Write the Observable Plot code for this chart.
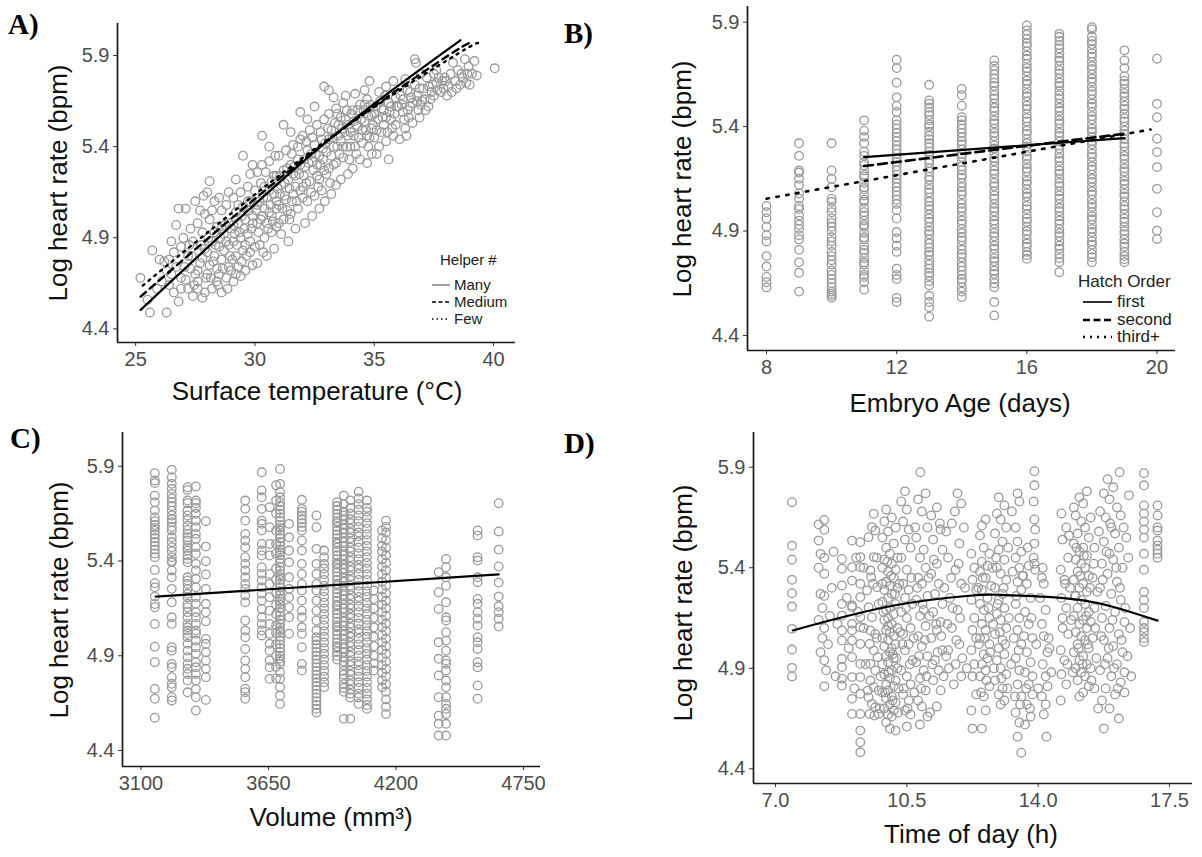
<!DOCTYPE html>
<html><head><meta charset="utf-8">
<script src="https://cdn.jsdelivr.net/npm/d3@7"></script>
<script src="https://cdn.jsdelivr.net/npm/@observablehq/plot@0.6"></script>
<style>
body{margin:0;background:#fff;}
#root{position:relative;width:1202px;height:857px;overflow:hidden;font-family:"Liberation Sans",Arial,sans-serif;}
.lbl{position:absolute;font-family:"Liberation Serif","Times New Roman",serif;font-weight:bold;font-size:29px;line-height:1;color:#000;}
.xt{position:absolute;font-size:26px;color:#111;transform:translate(-50%,-50%);white-space:nowrap;line-height:1;}
.yt{position:absolute;font-size:26px;color:#111;transform:translate(-50%,-50%) rotate(-90deg);white-space:nowrap;line-height:1;}
.lg{position:absolute;color:#222;white-space:nowrap;line-height:1;}
</style></head><body><div id="root"></div>
<script>
// ---------- Panel A: surface temperature vs log heart rate ----------
const tempHR = [
[25.2,4.68],[25.6,4.49],[25.7,4.83],[25.9,4.62],[25.5,4.56],
[26.3,4.49],[26.0,4.78],[26.2,4.77],[26.4,4.78],[26.1,4.66],[26.5,4.70],[26.6,4.60],[26.8,4.55],[26.7,4.97],[26.8,5.06],[26.9,4.85],[26.5,4.88],[26.3,4.72],[26.9,4.68],[26.6,4.82],
[27.1,5.06],[27.5,5.10],[27.3,4.95],[27.2,4.62],[27.4,4.58],[27.6,4.66],[27.8,4.57],[27.9,4.60],[27.85,5.13],[27.2,4.80],[27.4,4.88],[27.6,4.98],[27.7,4.76],[27.5,4.70],[27.9,4.84],[27.3,4.73],[27.8,4.93],[27.0,4.90],[27.6,4.62],[27.9,5.03],[27.7,5.05],[27.1,4.67],
[28.1,5.21],[28.0,5.15],[28.3,5.10],[28.6,4.60],[28.2,4.62],[28.4,4.66],[28.5,4.70],[28.8,4.68],[28.1,4.75],[28.3,4.80],[28.6,4.78],[28.9,4.74],[28.2,4.88],[28.5,4.85],[28.7,4.92],[28.4,4.96],[28.9,4.98],[28.1,5.00],[28.6,5.05],[28.8,5.08],[28.3,4.93],[28.7,4.83],[28.5,5.12],[28.9,5.15],[28.2,5.05],[28.0,4.70],[28.4,4.73],[28.8,4.88],[28.6,4.95],[28.95,4.80],
[29.5,5.35],[29.2,5.22],[29.8,5.25],[29.1,4.66],[29.4,4.69],[29.9,4.75],[29.3,4.74],[29.6,4.72],[29.2,4.80],[29.5,4.83],[29.8,4.82],[29.1,4.88],[29.4,4.90],[29.7,4.92],[29.0,4.95],[29.3,4.98],[29.6,5.00],[29.9,5.02],[29.2,5.04],[29.5,5.07],[29.8,5.10],[29.1,5.12],[29.4,5.15],[29.7,5.18],[29.9,5.30],[29.6,4.86],[29.3,5.08],[29.85,4.95],[29.05,4.78],[29.45,5.02],[29.75,5.05],[29.15,4.92],
[30.3,5.46],[30.6,5.40],[30.1,4.76],[30.5,4.80],[30.8,4.84],[30.2,4.86],[30.4,4.90],[30.7,4.93],[30.9,4.96],[30.1,4.98],[30.3,5.02],[30.6,5.04],[30.9,5.06],[30.2,5.10],[30.5,5.12],[30.8,5.14],[30.0,5.16],[30.4,5.18],[30.7,5.21],[30.9,5.24],[30.1,5.26],[30.3,5.30],[30.6,5.32],[30.85,5.35],[30.45,5.26],[30.25,5.20],[30.65,5.08],[30.95,5.17],[30.05,5.05],[30.75,4.99],[30.55,4.95],[30.35,5.12],
[31.2,5.52],[31.5,5.48],[31.9,5.59],[31.1,4.92],[31.4,4.88],[31.7,4.95],[31.2,5.00],[31.5,5.03],[31.8,5.06],[31.0,5.08],[31.3,5.11],[31.6,5.14],[31.9,5.16],[31.1,5.19],[31.4,5.22],[31.7,5.24],[31.2,5.27],[31.5,5.30],[31.8,5.33],[31.0,5.35],[31.3,5.38],[31.6,5.41],[31.9,5.44],[31.45,5.17],[31.75,5.10],[31.25,5.13],[31.65,5.29],[31.05,5.24],[31.85,5.25],[31.35,5.05],[31.55,5.36],
[32.9,5.73],[32.5,5.62],[32.2,5.55],[32.93,5.10],[32.1,4.98],[32.4,5.02],[32.7,5.06],[32.2,5.10],[32.5,5.13],[32.8,5.16],[32.0,5.18],[32.3,5.21],[32.6,5.24],[32.9,5.27],[32.1,5.29],[32.4,5.32],[32.7,5.35],[32.2,5.38],[32.5,5.41],[32.8,5.44],[32.0,5.46],[32.3,5.49],[32.6,5.52],[32.9,5.55],[32.45,5.27],[32.75,5.30],[32.15,5.43],[32.65,5.18],[32.35,5.36],[32.85,5.39],[32.05,5.33],
[33.1,5.71],[33.4,5.19],[33.2,5.14],[33.6,5.22],[33.9,5.25],[33.1,5.28],[33.4,5.31],[33.7,5.34],[33.0,5.37],[33.3,5.40],[33.6,5.43],[33.9,5.46],[33.2,5.49],[33.5,5.52],[33.8,5.55],[33.1,5.58],[33.4,5.61],[33.7,5.64],[33.3,5.67],[33.8,5.68],[33.55,5.36],[33.25,5.45],[33.85,5.40],[33.05,5.50],[33.65,5.50],[33.45,5.58],[33.95,5.33],[33.15,5.20],
[34.8,5.76],[34.7,5.31],[34.1,5.28],[34.4,5.33],[34.9,5.36],[34.2,5.40],[34.5,5.42],[34.8,5.45],[34.0,5.48],[34.3,5.51],[34.6,5.54],[34.9,5.57],[34.1,5.60],[34.4,5.63],[34.7,5.66],[34.2,5.69],[34.6,5.71],[34.35,5.45],[34.65,5.49],[34.95,5.52],[34.15,5.54],[34.55,5.60],[34.85,5.63],[34.25,5.36],[34.75,5.40],
[35.2,5.40],[35.5,5.43],[35.8,5.46],[35.1,5.49],[35.4,5.52],[35.7,5.55],[35.0,5.58],[35.3,5.61],[35.6,5.64],[35.9,5.67],[35.2,5.70],[35.5,5.73],[35.8,5.76],[35.1,5.36],[35.35,5.56],[35.65,5.59],[35.95,5.62],[35.45,5.68],[35.75,5.50],[35.25,5.65],[35.6,5.33],
[36.06,5.44],[36.75,5.86],[36.7,5.88],[36.3,5.50],[36.6,5.53],[36.9,5.56],[36.2,5.59],[36.5,5.62],[36.8,5.65],[36.1,5.68],[36.4,5.71],[36.7,5.74],[36.3,5.77],[36.9,5.72],[36.45,5.56],[36.85,5.60],[36.15,5.63],[36.55,5.67],[36.35,5.46],
[37.27,5.62],[37.1,5.66],[37.5,5.68],[37.8,5.70],[37.3,5.73],[37.6,5.75],[37.9,5.72],[37.2,5.78],[37.5,5.80],[37.7,5.78],[37.4,5.70],[37.85,5.76],[37.05,5.72],
[38.1,5.73],[38.4,5.76],[38.7,5.78],[38.2,5.80],[38.5,5.82],[38.8,5.88],[38.3,5.86],[38.6,5.74],[38.9,5.80],[38.05,5.68],
[39.2,5.87],[39.1,5.80],[39.3,5.79],[40.05,5.83],
[27.6,4.72],[27.8,4.79],[28.0,4.82],[28.15,4.68],[28.25,4.77],[28.35,4.86],[28.45,4.64],[28.55,4.90],[28.65,4.73],[28.75,4.97],[28.85,4.62],[28.9,4.86],[29.0,4.72],[29.1,4.97],[29.2,4.70],[29.25,4.86],[29.35,4.93],[29.45,4.77],[29.55,4.95],[29.65,4.80],[29.7,5.10],[29.8,4.88],[29.9,4.98],[30.0,4.85],[30.1,5.08],[30.15,4.93],[30.25,5.00],[30.35,4.82],[30.4,5.06],[30.5,4.98],[30.6,5.16],[30.7,5.02],[30.8,5.24],[30.9,5.10],[31.0,4.98],[31.05,5.14],[31.15,5.06],[31.25,5.20],[31.35,5.28],[31.45,5.00],[31.55,5.10],[31.6,5.25],[31.7,5.18],[31.8,5.40],[31.9,5.30],[32.0,5.12],[32.05,5.24],[32.15,5.20],[32.25,5.31],[32.35,5.15],[32.4,5.45],[32.55,5.36],[32.6,5.30],[32.7,5.22],[32.75,5.48],[32.85,5.33],[32.95,5.42],[33.0,5.25],[33.1,5.44],[33.2,5.35],[33.3,5.30],[33.35,5.53],[33.45,5.40],[33.5,5.46],[33.6,5.56],[33.7,5.40],[33.75,5.48],[33.85,5.60],[33.9,5.52],[34.0,5.40],[34.05,5.58],[34.15,5.46],[34.25,5.52],[34.3,5.60],[34.45,5.55],[34.5,5.49],[34.6,5.63],[34.7,5.46],[34.75,5.57],[34.9,5.50],[35.0,5.45],[35.05,5.62],[35.15,5.55],[35.3,5.48],[35.4,5.60],[35.5,5.56],[35.55,5.48],[35.7,5.62],[35.85,5.58],[35.9,5.52],[36.0,5.62],[36.2,5.66],[36.25,5.55],[36.4,5.60],[36.5,5.70],[36.6,5.64],[36.8,5.68],[36.95,5.63],[37.0,5.65],[37.15,5.60],[37.35,5.66],[37.45,5.74],[37.65,5.71],[37.95,5.78],[38.0,5.76],[38.25,5.70],[38.45,5.72],[38.65,5.80],[38.85,5.75],[39.0,5.74],[38.95,5.84],[37.6,5.82],[36.95,5.80],[26.9,4.62],[27.05,4.74],[27.25,4.86],[27.45,4.64],[27.35,4.80],[26.7,4.74],[26.4,4.64],[27.95,4.68],[28.05,4.90],[27.75,4.86]
];
const fitMany   = [[25.21,4.504],[32.52,5.374],[38.61,5.984]];
const fitMedium = [[25.21,4.577],[32.52,5.380],[38.10,5.900],[38.96,5.957]];
const fitFew    = [[25.30,4.638],[32.52,5.389],[38.10,5.878],[39.35,5.969]];

// ---------- Panel B: embryo age (days) ----------
const embryoDays = [8,9,10,11,12,13,14,15,16,17,18,19,20];
const embryoHR = [
[5.02,4.99,4.96,4.92,4.88,4.85,4.78,4.73,4.68,4.655,4.63],
[5.32,5.26,5.19,5.18,5.15,5.12,5.08,5.055,5.02,5.005,4.975,4.95,4.93,4.91,4.88,4.86,4.81,4.75,4.70,4.61],
[5.32,5.19,5.15,5.11,5.055,5.04,5.01,4.99,4.96,4.94,4.92,4.90,4.87,4.85,4.83,4.80,4.78,4.76,4.74,4.71,4.69,4.67,4.65,4.63,4.61,4.60,4.59,4.58],
[5.43,5.38,5.35,5.32,5.28,5.26,5.23,5.215,5.19,5.17,5.16,5.13,5.11,5.10,5.07,5.05,5.04,5.01,4.99,4.975,4.95,4.93,4.92,4.89,4.87,4.86,4.83,4.81,4.795,4.77,4.75,4.74,4.71,4.69,4.68,4.655,4.62],
[5.72,5.68,5.61,5.54,5.50,5.47,5.43,5.41,5.39,5.37,5.35,5.33,5.31,5.29,5.27,5.25,5.23,5.21,5.19,5.17,5.15,5.13,5.11,5.09,5.07,5.05,5.03,5.00,4.96,4.895,4.865,4.83,4.80,4.72,4.69,4.67,4.58,4.56],
[5.60,5.525,5.51,5.49,5.47,5.455,5.43,5.41,5.40,5.375,5.355,5.34,5.32,5.30,5.28,5.265,5.24,5.225,5.20,5.185,5.16,5.145,5.12,5.10,5.085,5.06,5.04,5.02,5.005,4.98,4.96,4.945,4.92,4.90,4.885,4.86,4.84,4.82,4.80,4.785,4.76,4.74,4.72,4.70,4.685,4.66,4.64,4.59,4.56,4.535,4.49],
[5.58,5.55,5.50,5.445,5.43,5.41,5.39,5.37,5.35,5.33,5.315,5.29,5.27,5.255,5.23,5.21,5.19,5.17,5.155,5.13,5.11,5.09,5.075,5.05,5.03,5.01,4.995,4.97,4.95,4.935,4.91,4.89,4.87,4.855,4.83,4.81,4.79,4.775,4.75,4.73,4.71,4.69,4.67,4.655,4.63,4.61,4.584],
[5.717,5.69,5.67,5.65,5.63,5.61,5.595,5.57,5.55,5.535,5.51,5.49,5.475,5.45,5.43,5.415,5.39,5.37,5.355,5.33,5.31,5.295,5.27,5.25,5.235,5.21,5.19,5.175,5.15,5.13,5.115,5.09,5.07,5.055,5.03,5.01,4.995,4.97,4.95,4.935,4.91,4.89,4.875,4.85,4.83,4.815,4.79,4.77,4.755,4.73,4.71,4.695,4.67,4.65,4.631,4.56,4.496],
[5.884,5.86,5.84,5.82,5.80,5.785,5.76,5.74,5.725,5.70,5.68,5.665,5.64,5.62,5.605,5.58,5.56,5.545,5.52,5.50,5.485,5.46,5.44,5.425,5.40,5.38,5.365,5.34,5.32,5.305,5.28,5.26,5.245,5.22,5.20,5.185,5.16,5.14,5.125,5.10,5.08,5.065,5.04,5.02,5.005,4.98,4.96,4.945,4.92,4.90,4.885,4.86,4.84,4.825,4.80,4.785,4.767],
[5.844,5.83,5.81,5.79,5.775,5.75,5.73,5.715,5.69,5.67,5.655,5.63,5.61,5.595,5.57,5.55,5.535,5.51,5.49,5.475,5.45,5.43,5.415,5.39,5.37,5.355,5.33,5.31,5.295,5.27,5.25,5.235,5.21,5.19,5.175,5.15,5.13,5.115,5.09,5.07,5.055,5.03,5.01,4.995,4.97,4.95,4.935,4.91,4.89,4.875,4.85,4.83,4.815,4.79,4.77,4.751,4.703],
[5.876,5.865,5.83,5.81,5.795,5.77,5.75,5.735,5.71,5.69,5.675,5.65,5.63,5.615,5.59,5.57,5.555,5.53,5.51,5.495,5.47,5.45,5.435,5.41,5.39,5.375,5.35,5.33,5.315,5.29,5.27,5.255,5.23,5.21,5.195,5.17,5.15,5.135,5.11,5.09,5.075,5.05,5.03,5.015,4.99,4.97,4.955,4.93,4.91,4.895,4.87,4.85,4.835,4.81,4.79,4.775,4.751],
[5.765,5.717,5.68,5.64,5.62,5.605,5.58,5.56,5.545,5.52,5.50,5.485,5.46,5.44,5.425,5.40,5.38,5.365,5.34,5.32,5.305,5.28,5.26,5.245,5.22,5.20,5.185,5.16,5.14,5.125,5.10,5.08,5.065,5.04,5.02,5.005,4.98,4.96,4.945,4.92,4.90,4.885,4.86,4.84,4.825,4.80,4.78,4.765,4.751],
[5.725,5.509,5.445,5.342,5.278,5.206,5.102,4.99,4.902,4.862]
];
const fitFirst  = [[11,5.254],[19,5.345]];
const fitSecond = [[11,5.211],[19,5.366]];
const fitThird  = [[8,5.055],[19.8,5.386]];

// ---------- Panel C: volume (mm3) ----------
const volumes = [3160,3233,3301,3337,3380,3550,3621,3655,3683,3700,3739,3794,3857,3890,3946,3975,4003,4039,4075,4104,4140,4157,4384,4416,4552,4643];
const volumeHR = [
[5.863,5.825,5.811,5.745,5.71,5.666,5.631,5.61,5.59,5.575,5.56,5.54,5.52,5.50,5.48,5.46,5.44,5.42,5.353,5.283,5.261,5.212,5.173,5.156,5.068,4.948,4.866,4.725,4.673,4.573],
[5.881,5.842,5.807,5.781,5.754,5.73,5.71,5.69,5.666,5.64,5.62,5.605,5.58,5.561,5.525,5.50,5.473,5.45,5.42,5.40,5.393,5.35,5.314,5.253,5.182,5.103,5.068,4.945,4.927,4.857,4.839,4.787,4.752,4.734,4.681,4.664],
[5.789,5.775,5.719,5.705,5.666,5.64,5.617,5.587,5.564,5.543,5.525,5.508,5.482,5.469,5.455,5.429,5.411,5.393,5.314,5.297,5.279,5.253,5.227,5.209,5.174,5.156,5.13,5.103,5.068,5.05,5.033,5.016,4.998,4.963,4.927,4.892,4.857,4.831,4.804,4.769,4.707],
[5.793,5.719,5.705,5.68,5.649,5.613,5.578,5.543,5.517,5.473,5.438,5.385,5.35,5.306,5.262,5.209,5.174,5.13,5.103,5.068,5.033,5.016,4.98,4.945,4.91,4.866,4.839,4.804,4.769,4.725,4.681,4.611],
[5.61,5.476,5.399,5.329,5.253,5.174,5.13,5.082,4.989,4.963,4.918,4.875,4.831,4.787,4.667],
[5.719,5.675,5.613,5.543,5.508,5.473,5.42,5.385,5.35,5.314,5.279,5.253,5.218,5.182,5.086,5.033,4.998,4.936,4.875,4.831,4.787,4.726,4.708,4.673],
[5.868,5.772,5.736,5.675,5.613,5.596,5.561,5.49,5.455,5.429,5.367,5.332,5.297,5.261,5.227,5.191,5.147,5.103,5.068,5.033,5.007],
[5.684,5.578,5.49,5.429,5.332,5.279,5.209,5.138,5.068,5.016,4.963,4.927,4.875,4.839,4.778],
[5.80,5.72,5.65,5.56,5.49,5.44,5.36,5.30,5.23,5.17,5.12,5.06,5.02,4.96,4.90,4.84,4.78],
[5.886,5.807,5.763,5.736,5.71,5.69,5.67,5.65,5.63,5.61,5.59,5.575,5.56,5.54,5.52,5.50,5.48,5.46,5.445,5.43,5.41,5.39,5.37,5.35,5.33,5.315,5.30,5.28,5.26,5.24,5.22,5.20,5.185,5.17,5.15,5.13,5.11,5.09,5.07,5.05,5.035,5.02,5.00,4.98,4.96,4.94,4.92,4.90,4.885,4.87,4.857,4.813,4.778,4.734,4.69,4.646],
[5.596,5.525,5.455,5.393,5.314,5.253,5.209,5.156,5.103,5.016],
[5.723,5.675,5.66,5.64,5.62,5.60,5.58,5.561,5.508,5.455,5.385,5.332,5.279,5.244,5.191,5.138,5.103,5.05,5.016,4.945,4.857,4.822],
[5.64,5.578,5.464,5.385,5.332,5.279,5.244,5.191,5.138,5.086,5.033,4.998,4.98,4.96,4.94,4.92,4.90,4.88,4.86,4.84,4.82,4.80,4.78,4.76,4.74,4.72,4.70,4.68,4.66,4.64,4.62,4.60],
[5.455,5.42,5.385,5.36,5.33,5.30,5.27,5.24,5.21,5.18,5.15,5.12,5.09,5.06,5.03,5.00,4.97,4.94,4.91,4.88,4.85,4.82,4.79,4.76,4.734],
[5.71,5.69,5.67,5.65,5.63,5.61,5.60,5.58,5.56,5.54,5.52,5.50,5.49,5.47,5.45,5.43,5.41,5.39,5.38,5.36,5.34,5.32,5.30,5.28,5.27,5.25,5.23,5.21,5.19,5.17,5.16,5.14,5.12,5.10,5.08,5.06,5.05,5.03,5.01,4.99,4.97,4.95,4.94,4.92,4.90,4.88],
[5.745,5.70,5.66,5.64,5.62,5.59,5.57,5.55,5.52,5.50,5.48,5.45,5.43,5.41,5.38,5.36,5.34,5.31,5.29,5.27,5.24,5.22,5.20,5.17,5.15,5.13,5.10,5.08,5.06,5.03,5.01,4.99,4.96,4.94,4.92,4.89,4.87,4.85,4.82,4.80,4.78,4.75,4.73,4.71,4.567],
[5.72,5.68,5.65,5.62,5.60,5.57,5.55,5.52,5.50,5.47,5.45,5.42,5.40,5.37,5.35,5.32,5.30,5.27,5.25,5.22,5.20,5.17,5.15,5.12,5.10,5.07,5.05,5.02,5.00,4.97,4.95,4.92,4.90,4.87,4.85,4.82,4.80,4.77,4.75,4.72,4.70,4.68,4.567],
[5.766,5.73,5.70,5.67,5.64,5.61,5.58,5.55,5.53,5.50,5.47,5.44,5.41,5.38,5.36,5.33,5.30,5.27,5.24,5.21,5.19,5.16,5.13,5.10,5.07,5.04,5.02,4.99,4.96,4.93,4.90,4.87,4.85,4.82,4.79,4.76,4.73,4.70,4.68,4.646],
[5.719,5.68,5.66,5.63,5.60,5.57,5.54,5.51,5.48,5.45,5.42,5.39,5.36,5.33,5.30,5.27,5.24,5.21,5.18,5.15,5.12,5.09,5.06,5.03,5.00,4.97,4.94,4.91,4.88,4.85,4.82,4.79,4.76,4.73,4.70,4.67,4.64,4.62],
[5.244,5.20,5.15,5.10,5.05,5.00,4.95,4.90,4.86,4.822],
[5.561,5.52,5.48,5.45,5.41,5.37,5.33,5.29,5.25,5.21,5.17,5.13,5.09,5.05,5.01,4.97,4.93,4.89,4.85,4.81,4.77,4.734],
[5.613,5.58,5.55,5.51,5.47,5.43,5.39,5.35,5.31,5.27,5.23,5.19,5.15,5.11,5.07,5.03,4.99,4.95,4.91,4.87,4.83,4.79,4.75,4.71,4.67,4.63,4.593],
[5.341,5.235,5.147,4.971,4.884,4.796,4.681,4.584,4.541,4.479],
[5.411,5.367,5.314,5.27,5.182,5.103,5.086,5.024,4.98,4.927,4.875,4.857,4.822,4.769,4.734,4.681,4.646,4.62,4.593,4.541,4.479],
[5.561,5.534,5.42,5.402,5.314,5.288,5.2,5.174,5.13,5.095,5.059,4.998,4.971,4.936,4.866,4.839,4.743,4.673],
[5.705,5.556,5.46,5.371,5.286,5.212,5.161,5.13,5.095,5.054]
];
const fitVolume = [[3164,5.212],[4643,5.329]];

// ---------- Panel D: time of day (h) ----------
const timeHR = [
[7.44,5.726],[7.44,5.51],[7.44,5.44],[7.44,5.34],[7.44,5.273],[7.44,5.207],[7.44,5.096],[7.44,4.993],[7.44,4.902],[7.44,4.859],
[8.15,5.615],[8.3,5.589],[8.3,5.638],[8.15,5.535],[8.2,5.469],[8.3,5.45],[8.15,5.40],[8.3,5.37],[8.2,5.27],[8.3,5.26],[8.25,5.20],[8.45,5.16],[8.15,5.14],[8.3,5.10],[8.25,5.05],[8.2,4.98],[8.3,4.94],[8.35,4.89],[8.3,4.81],
[8.77,5.444],[8.77,5.395],[8.77,5.312],[8.77,5.22],[8.77,5.162],[8.77,5.088],[8.77,5.038],[8.77,4.947],[8.77,4.906],[8.77,4.848],[8.77,4.814],
[9.04,5.535],[9.04,5.403],[9.04,5.336],[9.04,5.212],[9.04,5.204],[9.04,5.121],[9.04,5.088],[9.04,5.038],[9.04,4.955],[9.04,4.856],[9.04,4.748],[9.04,4.673],
[9.26,5.527],[9.26,5.453],[9.26,5.403],[9.26,5.32],[9.26,5.254],[9.26,5.154],[9.26,5.104],[9.26,5.021],[9.26,4.922],[9.26,4.856],[9.26,4.773],[9.26,4.673],[9.26,4.59],[9.26,4.532],[9.26,4.482],
[9.44,5.287],[9.48,5.552],[9.57,5.602],[9.62,5.668],[9.66,5.585],[9.62,5.453],[9.53,5.386],[9.55,5.353],[9.6,5.32],[9.71,5.303],[9.48,5.204],[9.57,5.154],[9.53,5.088],[9.66,5.071],[9.51,5.021],[9.62,4.988],[9.72,4.955],[9.53,4.922],[9.66,4.889],[9.53,4.839],[9.62,4.806],[9.75,4.789],[9.48,4.756],[9.57,4.723],[9.51,4.673],[9.64,4.665],[9.75,4.673],[9.66,4.706],[9.46,4.789],
[9.95,5.69],[10.1,5.65],[9.9,5.63],[10.2,5.60],[10.0,5.58],[9.85,5.55],[10.15,5.52],[9.95,5.50],[10.05,5.47],[10.25,5.45],[9.9,5.44],[10.1,5.42],[9.85,5.40],[10.2,5.39],[10.0,5.38],[10.15,5.35],[9.95,5.33],[10.05,5.31],[10.25,5.30],[9.9,5.29],[10.1,5.27],[10.0,5.25],[9.85,5.23],[10.2,5.22],[10.05,5.20],[9.95,5.19],[10.15,5.17],[10.0,5.15],[9.9,5.14],[10.1,5.12],[10.25,5.10],[9.95,5.09],[10.05,5.08],[10.15,5.06],[9.85,5.05],[10.0,5.04],[10.2,5.02],[9.9,5.01],[10.1,5.00],[10.05,4.98],[9.95,4.96],[10.15,4.95],[10.0,4.93],[9.85,4.92],[10.25,4.90],[10.1,4.89],[9.9,4.87],[10.05,4.85],[10.2,4.84],[9.95,4.82],[10.15,4.81],[10.0,4.79],[9.85,4.78],[10.1,4.76],[9.95,4.75],[10.2,4.73],[10.05,4.72],[9.9,4.70],[10.15,4.69],[10.0,4.67],[10.1,4.66],[9.95,4.63],[10.05,4.60],[10.2,4.59],
[10.45,5.78],[10.35,5.73],[10.5,5.69],[10.4,5.63],[10.55,5.59],[10.45,5.54],[10.6,5.50],[10.35,5.45],[10.5,5.39],[10.4,5.32],[10.55,5.29],[10.45,5.25],[10.65,5.22],[10.35,5.18],[10.5,5.15],[10.6,5.10],[10.4,5.07],[10.55,5.02],[10.45,4.99],[10.65,4.94],[10.35,4.89],[10.5,4.86],[10.6,4.82],[10.4,4.77],[10.55,4.74],[10.45,4.69],[10.6,4.67],[10.5,4.61],
[10.86,5.875],[11.0,5.77],[10.8,5.74],[10.9,5.68],[11.05,5.60],[10.75,5.55],[10.95,5.49],[10.85,5.45],[11.0,5.40],[10.8,5.35],[10.9,5.32],[11.05,5.26],[10.75,5.24],[10.95,5.19],[10.85,5.16],[11.0,5.11],[10.8,5.06],[10.9,5.01],[11.05,4.96],[10.75,4.93],[10.95,4.89],[10.85,4.85],[11.0,4.79],[10.8,4.74],[10.9,4.71],[11.05,4.66],[10.85,4.62],
[11.3,5.70],[11.15,5.66],[11.4,5.59],[11.2,5.54],[11.45,5.49],[11.3,5.42],[11.15,5.37],[11.35,5.32],[11.25,5.27],[11.45,5.22],[11.2,5.18],[11.4,5.13],[11.3,5.09],[11.15,5.05],[11.45,4.99],[11.25,4.94],[11.35,4.89],[11.2,4.84],[11.4,4.79],[11.3,4.71],
[11.85,5.77],[11.95,5.72],[11.7,5.62],[11.9,5.52],[11.6,5.45],[11.8,5.39],[11.95,5.32],[11.65,5.25],[11.85,5.19],[11.7,5.10],[11.9,5.02],[11.6,4.99],[11.8,4.92],[11.95,4.86],[11.75,4.82],[11.55,4.96],
[12.22,5.47],[12.3,5.40],[12.25,5.34],[12.35,5.29],[12.22,5.24],[12.3,5.15],[12.25,5.09],[12.35,5.05],[12.22,4.99],[12.3,4.92],[12.25,4.86],[12.35,4.77],[12.22,4.69],[12.25,4.60],
[12.5,5.61],[12.6,5.64],[12.45,5.56],[12.55,5.50],[12.7,5.47],[12.5,5.43],[12.65,5.41],[12.45,5.38],[12.6,5.35],[12.75,5.31],[12.5,5.29],[12.65,5.25],[12.45,5.22],[12.55,5.19],[12.7,5.15],[12.5,5.12],[12.6,5.09],[12.45,5.05],[12.7,5.02],[12.55,4.97],[12.65,4.95],[12.5,4.92],[12.6,4.89],[12.45,4.86],[12.7,4.81],[12.55,4.76],[12.6,4.69],[12.5,4.60],
[12.95,5.75],[13.1,5.71],[12.9,5.67],[13.0,5.64],[13.15,5.60],[12.85,5.57],[13.05,5.53],[12.95,5.49],[13.1,5.44],[12.9,5.40],[13.0,5.37],[13.15,5.34],[12.85,5.30],[13.05,5.27],[12.95,5.24],[13.1,5.20],[12.9,5.17],[13.0,5.14],[13.15,5.10],[12.85,5.07],[13.05,5.04],[12.95,5.00],[13.1,4.97],[12.9,4.94],[13.0,4.90],[13.15,4.87],[12.85,4.84],[13.05,4.80],[12.95,4.77],[13.1,4.74],[13.0,4.72],
[13.45,5.77],[13.5,5.73],[13.4,5.60],[13.45,5.53],[13.55,5.48],[13.4,5.45],[13.5,5.40],[13.45,5.33],[13.55,5.29],[13.4,5.22],[13.5,5.15],[13.45,5.09],[13.55,5.02],[13.4,4.95],[13.5,4.89],[13.45,4.82],[13.55,4.76],[13.4,4.68],[13.5,4.63],[13.45,4.56],[13.55,4.48],
[13.9,5.88],[13.9,5.81],[13.88,5.73],[13.9,5.64],[13.92,5.59],[13.9,5.52],[13.88,5.45],[13.9,5.42],[13.92,5.39],
[13.7,5.32],[13.8,5.25],[13.65,5.18],[13.75,5.12],[13.85,5.05],[13.7,4.98],[13.8,4.93],[13.65,4.88],[13.75,4.82],[13.85,4.77],[13.7,4.72],[13.8,4.66],[13.65,4.62],[13.75,5.41],[13.6,5.36],
[14.12,5.40],[14.1,5.35],[14.15,5.32],[14.2,5.19],[14.1,5.12],[14.15,5.06],[14.28,5.05],[14.25,4.98],[14.12,4.92],[14.2,4.86],[14.25,4.81],[14.1,4.76],[14.2,4.72],[14.15,4.67],[14.22,4.56],
[14.62,5.67],[14.75,5.60],[14.65,5.54],[14.8,5.45],[14.6,5.39],[14.7,5.34],[14.85,5.30],[14.62,5.25],[14.75,5.20],[14.65,5.15],[14.8,5.07],[14.6,4.99],[14.7,4.94],[14.62,4.87],[14.75,4.82],[14.6,4.74],
[14.95,5.70],[15.1,5.75],[15.2,5.72],[15.3,5.78],[15.0,5.66],[15.15,5.63],[15.25,5.60],[15.05,5.57],[15.35,5.55],[14.95,5.52],[15.2,5.50],[15.1,5.48],[15.3,5.46],[15.0,5.44],[15.15,5.42],[15.25,5.40],[15.05,5.38],[15.35,5.36],[14.95,5.34],[15.2,5.32],[15.1,5.30],[15.3,5.28],[15.0,5.26],[15.15,5.24],[15.25,5.22],[15.05,5.20],[15.35,5.18],[14.95,5.16],[15.2,5.14],[15.1,5.12],[15.3,5.10],[15.0,5.08],[15.15,5.06],[15.25,5.04],[15.05,5.02],[15.35,5.00],[14.95,4.98],[15.2,4.96],[15.1,4.94],[15.3,4.92],[15.0,4.90],[15.15,4.88],[15.25,4.86],[15.05,4.84],[15.35,4.81],[15.2,4.78],[15.1,4.76],[15.4,4.90],[15.45,5.05],[15.5,5.20],[15.45,5.35],[15.5,5.50],[15.4,5.65],[15.55,4.95],[15.5,4.80],[15.4,5.13],
[16.17,5.875],[15.85,5.84],[16.0,5.80],[15.75,5.77],[15.9,5.74],[16.1,5.70],[15.65,5.68],[15.8,5.65],[16.2,5.66],[15.95,5.60],[16.05,5.57],[15.75,5.53],[16.15,5.50],[15.9,5.47],[16.0,5.44],[15.7,5.42],[16.25,5.40],[15.85,5.37],[16.1,5.33],[15.65,5.30],[15.95,5.27],[16.2,5.24],[15.8,5.21],[16.05,5.18],[15.7,5.15],[16.3,5.13],[15.9,5.10],[16.15,5.07],[15.75,5.04],[16.0,5.01],[16.25,4.98],[15.85,4.95],[16.1,4.92],[15.65,4.89],[15.95,4.86],[16.2,4.83],[15.8,4.80],[16.05,4.77],[15.7,4.74],[16.3,4.78],[15.9,4.70],[16.15,4.65],[15.75,4.60],[16.35,5.55],[16.4,5.45],[16.3,4.88],
[16.82,5.87],[16.82,5.81],[16.82,5.71],[16.82,5.67],[16.82,5.63],[16.82,5.59],[16.82,5.55],[16.82,5.47],[16.82,5.39],[16.82,5.28],[16.82,5.24],[16.82,5.20],[16.82,5.13],[16.82,5.10],[16.82,5.08],[16.82,5.05],[16.82,5.03],
[17.18,5.71],[17.18,5.66],[17.18,5.60],[17.18,5.585],[17.18,5.535],[17.18,5.51],[17.18,5.49],[17.18,5.47],[17.18,5.45],
[8.5,5.30],[8.4,5.02],[8.6,4.86],[8.55,5.48],[8.65,5.12],[8.9,5.25],[8.95,5.00],[9.1,4.80],[9.15,5.45],[9.2,5.18],[9.35,5.40],[9.4,4.92],[9.35,5.10],[9.7,5.45],[9.75,5.22],[9.7,5.05],[9.8,4.86],[9.78,4.70],[9.85,5.32],[9.92,4.78],[10.02,4.88],[10.12,4.74],[10.22,4.95],[10.28,4.80],[10.3,5.32],[10.32,5.08],[10.0,5.11],[10.08,5.36],[10.18,5.27],[9.88,5.18],[9.98,5.43],[10.12,4.97],[10.27,4.68],[10.38,5.02],[10.42,4.80],[10.48,5.20],[10.52,4.70],[10.58,4.92],[10.62,5.35],[10.68,5.05],[10.7,4.78],[10.72,5.60],[10.78,5.30],[10.82,4.96],[10.88,4.80],[10.92,5.22],[10.98,5.04],[11.02,4.86],[11.08,5.35],[11.1,5.16],[11.12,4.68],[11.18,4.92],[11.22,5.44],[11.28,5.12],[11.32,4.98],[11.38,5.62],[11.42,5.06],[11.48,4.86],[11.5,5.30],[11.55,5.58],[11.58,5.12],[11.62,4.90],[11.68,5.35],[11.72,5.20],[11.78,5.68],[11.82,5.04],[11.88,5.42],[11.92,5.15],[11.98,4.95],[12.02,5.60],[12.05,5.30],[12.1,4.90],
[12.4,5.30],[12.42,5.02],[12.48,4.78],[12.52,5.35],[12.58,5.05],[12.62,4.84],[12.68,5.20],[12.72,4.98],[12.78,5.40],[12.8,5.12],[12.82,4.90],[12.88,5.45],[12.92,5.22],[12.98,5.08],[13.02,4.85],[13.08,5.30],[13.12,5.02],[13.18,4.80],[13.2,5.50],[13.22,5.15],[13.28,4.92],[13.3,5.68],[13.32,5.38],[13.35,5.05],[13.38,4.76],[13.42,5.26],[13.48,4.99],[13.52,4.72],[13.58,5.36],[13.62,5.06],[13.68,4.80],[13.72,5.50],[13.78,4.70],[13.82,5.15],[13.85,4.86],[13.95,5.02],[14.0,4.80],[14.05,5.25],[14.3,5.00],[14.35,4.88],
[14.65,5.10],[14.72,5.32],[14.78,4.92],[14.82,5.56],[14.88,5.14],[14.92,4.88],[14.98,5.26],[15.02,5.50],[15.08,5.00],[15.12,5.36],[15.18,4.92],[15.22,5.46],[15.28,5.16],[15.32,5.02],[15.38,5.30],[15.42,4.84],[15.48,5.42],[15.52,5.10],[15.58,5.28],[15.6,4.70],[15.62,5.58],[15.68,5.06],[15.72,5.34],[15.78,4.92],[15.82,5.48],[15.88,5.00],[15.92,5.62],[15.98,5.14],[16.02,4.90],[16.08,5.40],[16.12,4.80],[16.18,5.30],[16.22,5.04],[16.28,5.60],[16.32,5.20],[16.38,4.96],[16.42,5.76],[16.45,5.10],[16.48,4.86]
];
const fitTime = [[7.46,5.088],[10.15,5.212],[12.23,5.262],[13.0,5.265],[14.87,5.245],[16.2,5.195],[17.18,5.137]];

// ---------- shared ----------
const yTicks = [4.4, 4.9, 5.4, 5.9];
const root = document.getElementById("root");
const dotStyle = {r: 4.3, stroke: "#9a9a9a", strokeWidth: 1.3, fill: "none"};
const fmt1 = d3.format(".1f");

function panel(cfg) {
  const {left, top, width, height, fx0, fx1, fy0, fy1, xDomain, yDomain, xTicks, xFormat, marks} = cfg;
  const svg = Plot.plot({
    width, height,
    marginLeft: fx0 - left, marginRight: left + width - fx1,
    marginTop: fy0 - top, marginBottom: top + height - fy1,
    x: {domain: xDomain}, y: {domain: yDomain},
    style: {fontFamily: '"Liberation Sans", Arial, sans-serif', fontSize: "20px", background: "transparent", overflow: "visible"},
    marks: [
      ...marks,
      Plot.axisX(xTicks, {tickSize: 4, tickPadding: 5, tickFormat: xFormat, stroke: "#333", fill: "#4d4d4d", label: null}),
      Plot.axisY(yTicks, {tickSize: 4, tickPadding: 4, tickFormat: fmt1, stroke: "#333", fill: "#4d4d4d", label: null}),
      Plot.ruleX([xDomain[0]], {stroke: "#1a1a1a", strokeWidth: 1.7}),
      Plot.ruleY([yDomain[0]], {stroke: "#1a1a1a", strokeWidth: 1.7})
    ]
  });
  svg.style.position = "absolute";
  svg.style.left = left + "px";
  svg.style.top = top + "px";
  root.appendChild(svg);
}

function addDiv(cls, text, styles) {
  const d = document.createElement("div");
  d.className = cls;
  d.textContent = text;
  Object.assign(d.style, styles);
  root.appendChild(d);
  return d;
}

function legendRow(x, y, w, dash, color, sw, text, tx, fs) {
  const s = document.createElementNS("http://www.w3.org/2000/svg", "svg");
  s.setAttribute("width", w); s.setAttribute("height", 8);
  s.style.position = "absolute"; s.style.left = x + "px"; s.style.top = (y - 4) + "px";
  const l = document.createElementNS("http://www.w3.org/2000/svg", "line");
  l.setAttribute("x1", 0); l.setAttribute("x2", w); l.setAttribute("y1", 4); l.setAttribute("y2", 4);
  l.setAttribute("stroke", color); l.setAttribute("stroke-width", sw);
  if (dash) l.setAttribute("stroke-dasharray", dash);
  s.appendChild(l); root.appendChild(s);
  addDiv("lg", text, {left: tx + "px", top: (y - fs * 0.55) + "px", fontSize: fs + "px"});
}

// Panel A
panel({
  left: 0, top: 0, width: 600, height: 420, fx0: 117, fx1: 515, fy0: 23, fy1: 342,
  xDomain: [24.24, 40.92], yDomain: [4.325, 6.076], xTicks: [25, 30, 35, 40], xFormat: d => String(d),
  marks: [
    Plot.dot(tempHR, {x: d => d[0], y: d => d[1], ...dotStyle}),
    Plot.line(fitFew, {x: d => d[0], y: d => d[1], curve: "natural", stroke: "#000", strokeWidth: 2.4, strokeDasharray: "2,5.5"}),
    Plot.line(fitMedium, {x: d => d[0], y: d => d[1], curve: "natural", stroke: "#000", strokeWidth: 2.4, strokeDasharray: "7,5"}),
    Plot.line(fitMany, {x: d => d[0], y: d => d[1], curve: "natural", stroke: "#000", strokeWidth: 2.2})
  ]
});

// Panel B
const embryoPts = embryoDays.flatMap((d, i) => embryoHR[i].map(v => [d, v]));
panel({
  left: 600, top: 0, width: 602, height: 420, fx0: 747, fx1: 1175, fy0: 6, fy1: 350,
  xDomain: [7.416, 20.569], yDomain: [4.328, 5.975], xTicks: [8, 12, 16, 20], xFormat: d => String(d),
  marks: [
    Plot.dot(embryoPts, {x: d => d[0], y: d => d[1], ...dotStyle}),
    Plot.line(fitThird, {x: d => d[0], y: d => d[1], stroke: "#000", strokeWidth: 2.6, strokeDasharray: "2.5,7.5"}),
    Plot.line(fitSecond, {x: d => d[0], y: d => d[1], stroke: "#000", strokeWidth: 2.6, strokeDasharray: "9,5"}),
    Plot.line(fitFirst, {x: d => d[0], y: d => d[1], stroke: "#000", strokeWidth: 2.2})
  ]
});

// Panel C
const volumePts = volumes.flatMap((v, i) => volumeHR[i].map(h => [v, h]));
panel({
  left: 0, top: 420, width: 600, height: 437, fx0: 122, fx1: 540, fy0: 432, fy1: 766,
  xDomain: [3020.6, 4823.3], yDomain: [4.3156, 6.078], xTicks: [3100, 3650, 4200, 4750], xFormat: d => String(d),
  marks: [
    Plot.dot(volumePts, {x: d => d[0], y: d => d[1], ...dotStyle}),
    Plot.line(fitVolume, {x: d => d[0], y: d => d[1], stroke: "#000", strokeWidth: 2.2})
  ]
});

// Panel D
panel({
  left: 600, top: 420, width: 602, height: 437, fx0: 753, fx1: 1192, fy0: 432, fy1: 783,
  xDomain: [6.414, 18.113], yDomain: [4.3269, 6.0726], xTicks: [7, 10.5, 14, 17.5], xFormat: fmt1,
  marks: [
    Plot.dot(timeHR, {x: d => d[0], y: d => d[1], ...dotStyle}),
    Plot.line(fitTime, {x: d => d[0], y: d => d[1], curve: "natural", stroke: "#000", strokeWidth: 2.2})
  ]
});

// Titles
addDiv("xt", "Surface temperature (°C)", {left: "317px", top: "391px"});
addDiv("yt", "Log heart rate (bpm)", {left: "58px", top: "183px"});
addDiv("xt", "Embryo Age (days)", {left: "960px", top: "403px"});
addDiv("yt", "Log heart rate (bpm)", {left: "682px", top: "179px"});
addDiv("xt", "Volume (mm³)", {left: "331px", top: "817px"});
addDiv("yt", "Log heart rate (bpm)", {left: "59px", top: "600px"});
addDiv("xt", "Time of day (h)", {left: "971px", top: "834px"});
addDiv("yt", "Log heart rate (bpm)", {left: "683px", top: "603px"});

// Panel letters
addDiv("lbl", "A)", {left: "8px", top: "10px"});
addDiv("lbl", "B)", {left: "564px", top: "19px"});
addDiv("lbl", "C)", {left: "10px", top: "424px"});
addDiv("lbl", "D)", {left: "564px", top: "429px"});

// Legend A
addDiv("lg", "Helper #", {left: "440px", top: "252px", fontSize: "15px"});
legendRow(432, 285, 18, null, "#8a8a8a", 1.6, "Many", 454, 15);
legendRow(432, 302, 18, "4,2.5", "#000", 1.6, "Medium", 454, 15);
legendRow(432, 319, 18, "1.5,3", "#000", 1.6, "Few", 454, 15);

// Legend B
addDiv("lg", "Hatch Order", {left: "1078px", top: "273px", fontSize: "17px"});
legendRow(1083, 302, 29, null, "#000", 1.6, "first", 1117, 17);
legendRow(1083, 320, 29, "7,3.5", "#000", 2.4, "second", 1117, 17);
legendRow(1083, 337, 29, "2,5", "#000", 2.4, "third+", 1117, 17);
</script></body></html>
